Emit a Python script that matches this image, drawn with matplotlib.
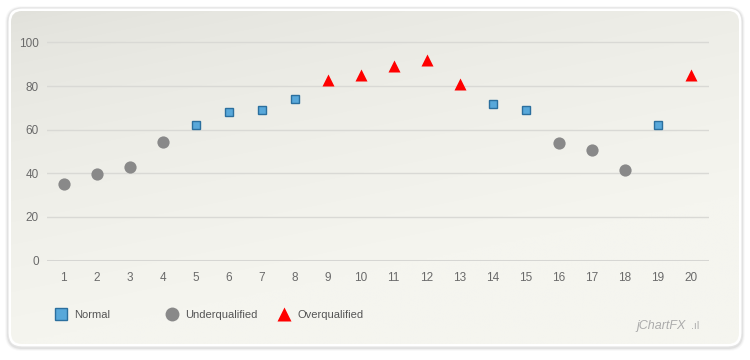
import numpy as np
import matplotlib.pyplot as plt
from matplotlib.patches import FancyBboxPatch
from matplotlib.lines import Line2D

plt.rcParams['font.family'] = ['Liberation Sans', 'DejaVu Sans']

# data
x_normal = [5, 6, 7, 8, 14, 15, 19]
y_normal = [62, 68, 69, 74, 72, 69, 62]
x_under = [1, 2, 3, 4, 16, 17, 18]
y_under = [35, 39.5, 43, 54.5, 54, 50.5, 41.5]
x_over = [9, 10, 11, 12, 13, 20]
y_over = [83, 85, 89, 92, 81, 85]
x_ticks = list(range(1, 21))
y_ticks = [0, 20, 40, 60, 80, 100]
series_names = ['Normal', 'Underqualified', 'Overqualified']

blue_fill = '#58a8da'
blue_edge = '#2b6f9e'
gray = '#898989'
red = '#ff0000'

fig = plt.figure(figsize=(7.5, 3.6), dpi=100)

# background card (pixel coordinates)
bg = fig.add_axes([0, 0, 1, 1], zorder=-1)
bg.set_xlim(0, 750)
bg.set_ylim(360, 0)
bg.axis('off')

for i, a in enumerate([0.025, 0.04, 0.06]):
    pad = 3 - i
    bg.add_patch(FancyBboxPatch((8 - pad, 8 - pad + 1), 734 + 2 * pad, 339 + 2 * pad,
                                boxstyle='round,pad=0,rounding_size=%d' % (14 + pad),
                                fc='black', ec='none', alpha=a, zorder=1))
bg.add_patch(FancyBboxPatch((8, 8), 734, 339, boxstyle='round,pad=0,rounding_size=14',
                            fc='white', ec='#e4e4e4', lw=0.8, zorder=1))
inner = FancyBboxPatch((11, 11), 728, 333, boxstyle='round,pad=0,rounding_size=11',
                       fc='none', ec='none')
bg.add_patch(inner)

yy, xx = np.mgrid[0:1:200j, 0:1:400j]
t = np.clip((yy * 1.0 + xx * 0.45) / 1.0, 0, 1) ** 0.6
top = np.array([224, 224, 218]) / 255.0
bot = np.array([245, 245, 239]) / 255.0
img = top[None, None, :] + (bot - top)[None, None, :] * t[:, :, None]
im = bg.imshow(img, extent=(11, 739, 344, 11), aspect='auto', interpolation='bilinear',
               zorder=2)
im.set_clip_path(inner)

# main plot
ymax = 103
ax = fig.add_axes([47 / 750, (360 - 260.5) / 360, 662 / 750, 2.18 * ymax / 360])
ax.set_facecolor('none')
ax.set_xlim(0.5, 20.56)
ax.set_ylim(0, ymax)
ax.set_xticks(x_ticks)
ax.set_yticks(y_ticks)
ax.grid(axis='y', color='#d9d9d5', lw=1)
ax.set_axisbelow(True)
for s in ax.spines.values():
    s.set_visible(False)
ax.axhline(0, color='#d6d6d3', lw=2.2, zorder=1)
ax.tick_params(axis='both', length=0, labelsize=8.5, labelcolor='#6a6a6a')
ax.tick_params(axis='y', pad=6)
ax.tick_params(axis='x', pad=8)

ax.plot(x_normal, y_normal, 's', ms=5.8, mfc=blue_fill, mec=blue_edge, mew=1,
        clip_on=False, zorder=3)
ax.plot(x_under, y_under, 'o', ms=8.8, mfc=gray, mec='none', clip_on=False, zorder=3)
ax.plot(x_over, y_over, '^', ms=8.3, mfc=red, mec='none', clip_on=False, zorder=3)

# legend, one entry per box to get the fixed column widths
handles = [
    Line2D([], [], ls='none', marker='s', ms=9.2, mfc=blue_fill, mec=blue_edge, mew=1),
    Line2D([], [], ls='none', marker='o', ms=10, mfc=gray, mec='none'),
    Line2D([], [], ls='none', marker='^', ms=9.4, mfc=red, mec='none'),
]
for h, name, px in zip(handles, series_names, [55, 166, 278]):
    fig.legend([h], [name], loc='center left', bbox_to_anchor=(px / 750, 1 - 315 / 360),
               frameon=False, fontsize=8, handlelength=1, handletextpad=0.75,
               borderpad=0, borderaxespad=0, labelcolor='#555555')

fig.text(686 / 750, 1 - 326 / 360, 'jChartFX', ha='right', va='center',
         style='italic', color='#ababab', fontsize=9)
fig.text(700 / 750, 1 - 326 / 360, '.ıl', ha='right', va='center',
         color='#ababab', fontsize=7, family='DejaVu Sans')

fig.savefig('out.png', dpi=100)
